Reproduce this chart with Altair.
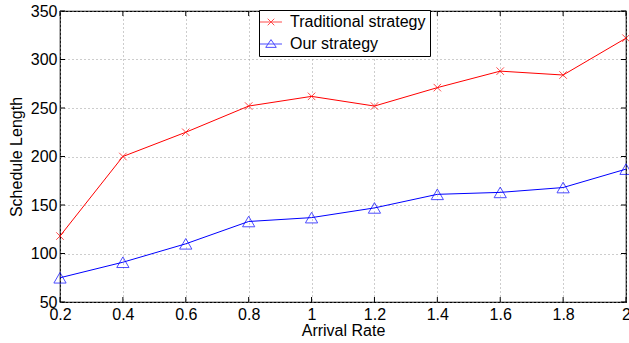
import altair as alt
import pandas as pd

# Schedule length versus task arrival rate for two scheduling strategies
arrival_rate = [0.2, 0.4, 0.6, 0.8, 1.0, 1.2, 1.4, 1.6, 1.8, 2.0]
traditional = [118, 200, 225, 252, 262, 252, 271, 288, 284, 322]
ours = [75, 91, 110, 133, 137, 147, 161, 163, 168, 187]

series_names = ["Traditional strategy", "Our strategy"]
series_colors = ["#ff0000", "#0000ff"]

x_ticks = [0.2, 0.4, 0.6, 0.8, 1.0, 1.2, 1.4, 1.6, 1.8, 2.0]
y_ticks = [50, 100, 150, 200, 250, 300, 350]

W, H = 566, 291
FONT = "Liberation Sans"

df = pd.concat([
    pd.DataFrame({"rate": arrival_rate, "length": traditional, "series": series_names[0]}),
    pd.DataFrame({"rate": arrival_rate, "length": ours, "series": series_names[1]}),
])
xt = pd.DataFrame({"v": x_ticks})
yt = pd.DataFrame({"v": y_ticks})

x_scale = alt.Scale(domain=[0.2, 2.0], nice=False, zero=False)
y_scale = alt.Scale(domain=[50, 350], nice=False, zero=False)
color_scale = alt.Scale(domain=series_names, range=series_colors)

x_enc = alt.X(
    "rate:Q", scale=x_scale,
    axis=alt.Axis(values=x_ticks, format="~g", title="Arrival Rate",
                  grid=True, ticks=False, domain=False, labelPadding=4,
                  labelFlush=False, labelOverlap=False, titlePadding=0),
)
y_enc = alt.Y(
    "length:Q", scale=y_scale,
    axis=alt.Axis(values=y_ticks, title="Schedule Length",
                  grid=True, ticks=False, domain=False, labelPadding=3,
                  labelFlush=False, labelOverlap=False, titlePadding=6),
)

# legend entries: a short line with the series marker on it
legend_shapes = [
    "M-1.5,0L1.5,0M-0.45,-0.45L0.45,0.45M-0.45,0.45L0.45,-0.45",
    "M-1.5,0L1.5,0M0,-0.6L0.72,0.46L-0.72,0.46Z",
]
legend = alt.Legend(
    title=None, orient="none", legendX=199, legendY=-1,
    fillColor="white", strokeColor="black", padding=4, cornerRadius=0,
    labelFont=FONT, labelFontSize=16, labelColor="black", labelOffset=11,
    symbolSize=215, symbolStrokeWidth=1, rowPadding=6,
)

lines = alt.Chart(df).mark_line(strokeWidth=1).encode(
    x=x_enc, y=y_enc,
    color=alt.Color("series:N", scale=color_scale, legend=legend),
)

legend_layer = alt.Chart(df).transform_filter("datum.rate < -100").mark_point(
    filled=False, strokeWidth=1
).encode(
    x=alt.X("rate:Q", scale=x_scale),
    y=alt.Y("length:Q", scale=y_scale),
    color=alt.Color("series:N", scale=color_scale, legend=legend),
    shape=alt.Shape("series:N", scale=alt.Scale(domain=series_names, range=legend_shapes), legend=legend),
)

trad_df = df[df["series"] == series_names[0]]
ours_df = df[df["series"] == series_names[1]]

trad_marks = alt.Chart(trad_df).mark_point(
    shape="M-1,-1L1,1M-1,1L1,-1", size=56, filled=False, strokeWidth=1, color=series_colors[0]
).encode(x=alt.X("rate:Q", scale=x_scale), y=alt.Y("length:Q", scale=y_scale))

ours_marks = alt.Chart(ours_df).mark_point(
    shape="triangle-up", size=150, filled=False, strokeWidth=1, color=series_colors[1]
).encode(x=alt.X("rate:Q", scale=x_scale), y=alt.Y("length:Q", scale=y_scale))

tick_len = 5
ticks_bottom = alt.Chart(xt).mark_rule(color="black", strokeWidth=1).encode(
    x=alt.X("v:Q", scale=x_scale), y=alt.value(H), y2=alt.value(H - tick_len))
ticks_top = alt.Chart(xt).mark_rule(color="black", strokeWidth=1).encode(
    x=alt.X("v:Q", scale=x_scale), y=alt.value(0), y2=alt.value(tick_len))
ticks_left = alt.Chart(yt).mark_rule(color="black", strokeWidth=1).encode(
    y=alt.Y("v:Q", scale=y_scale), x=alt.value(0), x2=alt.value(tick_len))
ticks_right = alt.Chart(yt).mark_rule(color="black", strokeWidth=1).encode(
    y=alt.Y("v:Q", scale=y_scale), x=alt.value(W), x2=alt.value(W - tick_len))

chart = alt.layer(
    lines, trad_marks, ours_marks, ticks_bottom, ticks_top, ticks_left, ticks_right, legend_layer
).properties(
    width=W, height=H,
    autosize=alt.AutoSizeParams(type="none"),
    padding={"left": 60, "top": 11, "right": 3, "bottom": 41},
    background="white",
).configure_view(
    stroke="black", strokeWidth=1.2,
).configure_axis(
    labelFont=FONT, labelFontSize=16, labelColor="black",
    titleFont=FONT, titleFontSize=16, titleColor="black", titleFontWeight="normal",
    gridColor="#9a9a9a", gridDash=[1, 3], gridWidth=1,
)

chart.save("out.html", embed_options={"renderer": "svg", "actions": False})
